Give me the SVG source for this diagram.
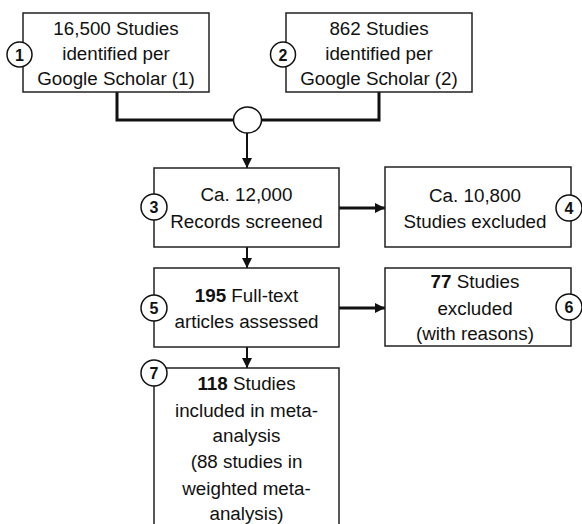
<svg xmlns="http://www.w3.org/2000/svg" width="582" height="524" viewBox="0 0 582 524">
<style>
.box{fill:#fff;stroke:#222;stroke-width:1.5}
.num{fill:#fff;stroke:#111;stroke-width:1.5}
.t{font-family:"Liberation Sans",Arial,sans-serif;font-size:18.8px;fill:#111;text-anchor:middle}
.n{font-family:"Liberation Sans",Arial,sans-serif;font-size:16px;font-weight:bold;fill:#111;text-anchor:middle}
.c{fill:none;stroke:#111;stroke-width:3}
.a{fill:none;stroke:#111;stroke-width:2}
.a3{fill:none;stroke:#111;stroke-width:3}
</style>
<defs>
<marker id="ah" viewBox="0 0 10 10" refX="10" refY="5" markerWidth="5" markerHeight="5" orient="auto" markerUnits="strokeWidth">
<path d="M0,0 L10,5 L0,10 z" fill="#111"/>
</marker>
<marker id="ah3" viewBox="0 0 10 10" refX="10" refY="5" markerWidth="3.5" markerHeight="3.5" orient="auto" markerUnits="strokeWidth">
<path d="M0,0 L10,5 L0,10 z" fill="#111"/>
</marker>
</defs>
<g id="connectors">
<polyline class="c" points="117,92 117,120 234,120"/>
<polyline class="c" points="379,92 379,120 261,120"/>
<ellipse class="num" cx="247.5" cy="120" rx="14" ry="13"/>
<line class="a" x1="247" y1="133" x2="247" y2="168" marker-end="url(#ah)"/>
<line class="a3" x1="339" y1="208" x2="385" y2="208" marker-end="url(#ah3)"/>
<line class="a" x1="247" y1="247" x2="247" y2="268" marker-end="url(#ah)"/>
<line class="a3" x1="339" y1="308" x2="385" y2="308" marker-end="url(#ah3)"/>
<line class="a" x1="247" y1="347" x2="247" y2="368" marker-end="url(#ah)"/>
</g>
<g id="node1">
<rect class="box" x="23" y="13" width="186" height="79"/>
<text class="t" x="116" y="35">16,500 Studies</text>
<text class="t" x="116" y="60">identified per</text>
<text class="t" x="116" y="85">Google Scholar (1)</text>
<circle class="num" cx="19.5" cy="54.5" r="12.5"/>
<text class="n" x="19.5" y="60.5">1</text>
</g>
<g id="node2">
<rect class="box" x="286" y="13" width="186" height="79"/>
<text class="t" x="379" y="35">862 Studies</text>
<text class="t" x="379" y="60">identified per</text>
<text class="t" x="379" y="85">Google Scholar (2)</text>
<circle class="num" cx="283" cy="54.5" r="12.5"/>
<text class="n" x="283" y="60.5">2</text>
</g>
<g id="node3">
<rect class="box" x="154" y="168" width="185" height="79"/>
<text class="t" x="246.5" y="201">Ca. 12,000</text>
<text class="t" x="246.5" y="228">Records screened</text>
<circle class="num" cx="154" cy="207" r="13"/>
<text class="n" x="154" y="213">3</text>
</g>
<g id="node4">
<rect class="box" x="385" y="167" width="186" height="80"/>
<text class="t" x="475" y="202">Ca. 10,800</text>
<text class="t" x="475" y="228">Studies excluded</text>
<circle class="num" cx="569" cy="208" r="13"/>
<text class="n" x="569" y="214">4</text>
</g>
<g id="node5">
<rect class="box" x="154" y="268" width="185" height="79"/>
<text class="t" x="246.5" y="302"><tspan font-weight="bold">195</tspan> Full-text</text>
<text class="t" x="246.5" y="328">articles assessed</text>
<circle class="num" cx="154" cy="308" r="13"/>
<text class="n" x="154" y="314">5</text>
</g>
<g id="node6">
<rect class="box" x="385" y="268" width="186" height="78"/>
<text class="t" x="475" y="288"><tspan font-weight="bold">77</tspan> Studies</text>
<text class="t" x="475" y="315">excluded</text>
<text class="t" x="475" y="340">(with reasons)</text>
<circle class="num" cx="569" cy="307" r="13"/>
<text class="n" x="569" y="313">6</text>
</g>
<g id="node7">
<rect class="box" x="154" y="368" width="185" height="170"/>
<text class="t" x="246.5" y="390"><tspan font-weight="bold">118</tspan> Studies</text>
<text class="t" x="246.5" y="417">included in meta-</text>
<text class="t" x="246.5" y="442">analysis</text>
<text class="t" x="246.5" y="468">(88 studies in</text>
<text class="t" x="246.5" y="495">weighted meta-</text>
<text class="t" x="246.5" y="520">analysis)</text>
<circle class="num" cx="154" cy="373" r="13"/>
<text class="n" x="154" y="379">7</text>
</g>
</svg>
